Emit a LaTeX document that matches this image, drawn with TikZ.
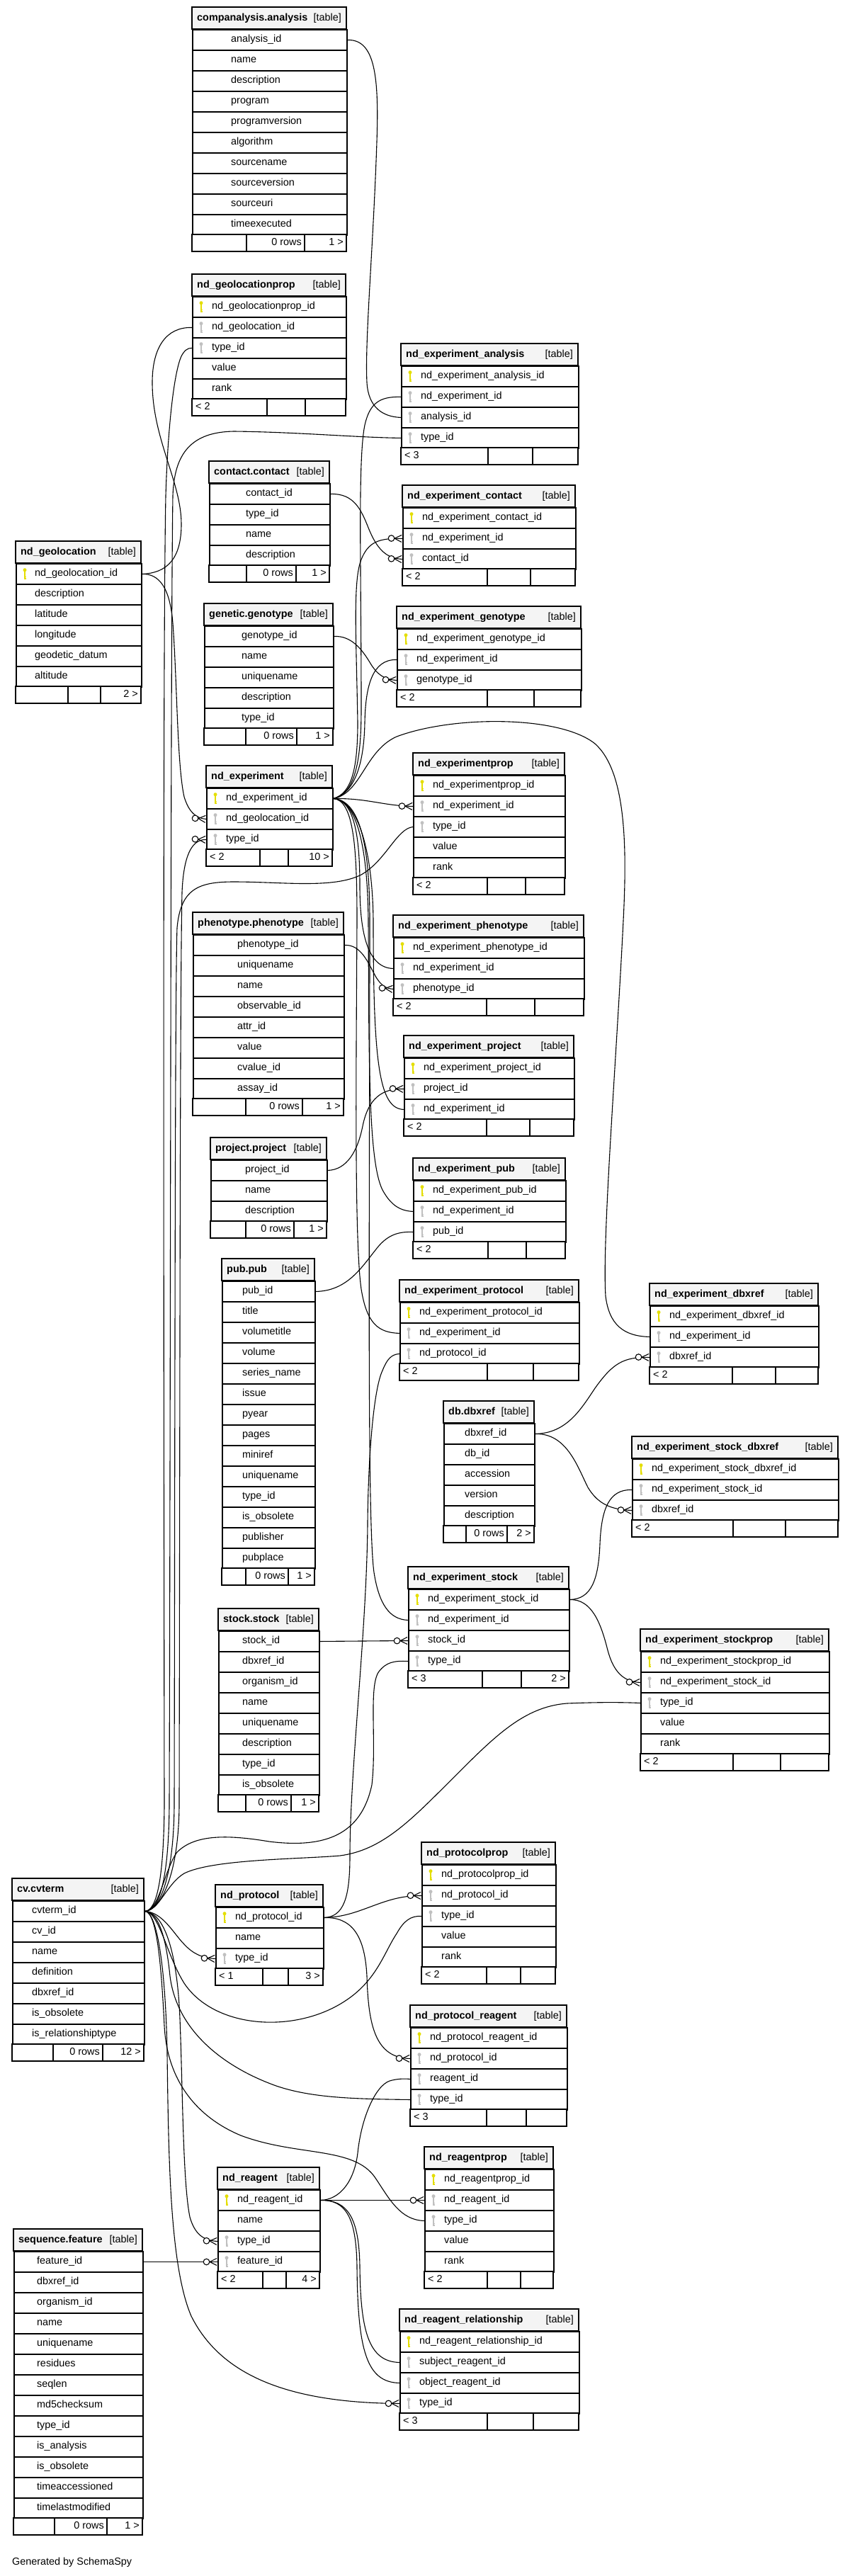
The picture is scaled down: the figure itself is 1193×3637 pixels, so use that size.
\documentclass[tikz,border=0pt]{standalone}
\usepackage{fontspec}
\setmainfont{Liberation Sans}
\usepackage{tikz}
\usetikzlibrary{decorations,decorations.markings,backgrounds,positioning}

\tikzset{
  tblline/.style={line width=1.9pt},
  tblcell/.style={draw, line width=1.9pt, fill=white, inner sep=0pt,
                  minimum height=29pt, anchor=north west},
  colname/.style={anchor=west, inner sep=0pt, text height=10.5pt, text depth=3pt},
  colright/.style={anchor=east, inner sep=0pt, text height=10.5pt, text depth=3pt},
  pics/dbkey/.style={code={
      \fill (0,-4.8) circle (2.5pt);
      \fill (-0.9,-3) rectangle (0.9,8.5);
      \fill (0.9,4.5) rectangle (2.4,5.7);
      \fill (0.9,6.8) rectangle (2.4,8);
  }},
  fk/.style={line width=1.1pt, decoration={markings,
      mark=at position 1 with {
        \draw[line width=1.1pt] (-11pt,0pt) -- (-1pt,5pt) (-11pt,0pt) -- (-1pt,-5pt);
        \draw[line width=1.1pt, fill=white] (-15.5pt,0pt) circle (4.3pt);}},
    postaction={decorate}}
}

% one table: id, x, y, width, text indent, title, key/column list
\newcommand{\dbtable}[7]{%
  \draw[tblline, fill=headfill] (#2,#3) rectangle ++(#4,31);
  \node[colname] at (#2+7,#3+15.5) {\bfseries #6};
  \node[colright] at (#2+#4-7,#3+15.5) {[table]};
  \foreach \kk/\cname [count=\i] in {#7} {
    \node[tblcell, minimum width=#4pt] (#1-\cname) at (#2,#3+2+29*\i) {};
    \node[colname] at (#2+#5,#3+16.5+29*\i) {\cname};
    \if p\kk \pic[color=keyyel] at (#2+13,#3+16.5+29*\i) {dbkey}; \fi
    \if f\kk \pic[color=keygray] at (#2+13,#3+16.5+29*\i) {dbkey}; \fi
    \xdef\nrow{\i}
  }
  \pgfmathsetmacro{\tbly}{#3+31+29*\nrow}
  \xdef\tbly{\tbly}\xdef\tblx{#2}\xdef\tblw{#4}%
}
% footer of the last table: divider x, divider x, left, middle, right
\newcommand{\dbfoot}[5]{%
  \draw[tblline, fill=white] (\tblx,\tbly) rectangle ++(\tblw,24);
  \draw[line width=1.3pt] (#1,\tbly) -- ++(0,24) (#2,\tbly) -- ++(0,24);
  \node[colname] at (\tblx+5,\tbly+12) {#3};
  \node[colright] at (#2-4,\tbly+12) {#4};
  \node[colright] at (\tblx+\tblw-4,\tbly+12) {#5};
}

\begin{document}
\catcode`\_=12
\begin{tikzpicture}[x=1pt, y=-1pt, every node/.style={font=\fontsize{14.4}{17}\selectfont}]
    \definecolor{headfill}{RGB}{244,244,244}
    \definecolor{keyyel}{RGB}{228,222,0}
    \definecolor{keygray}{RGB}{192,192,192}
    \useasboundingbox (0,0) rectangle (1193,3637);

    % Tables, top to bottom
    \dbtable{analysis}{271}{10}{218}{55}{companalysis.analysis}{n/analysis_id, n/name,
      n/description, n/program, n/programversion, n/algorithm, n/sourcename,
      n/sourceversion, n/sourceuri, n/timeexecuted}
    \dbfoot{348}{430}{}{0 rows}{1 >}

    \dbtable{geoprop}{271}{387}{217}{28}{nd_geolocationprop}{p/nd_geolocationprop_id,
      f/nd_geolocation_id, f/type_id, n/value, n/rank}
    \dbfoot{377}{431}{< 2}{}{}

    \dbtable{expana}{566}{485}{250}{28}{nd_experiment_analysis}{p/nd_experiment_analysis_id,
      f/nd_experiment_id, f/analysis_id, f/type_id}
    \dbfoot{689}{752}{< 3}{}{}

    \dbtable{contact}{295}{651}{170}{52}{contact.contact}{n/contact_id, n/type_id, n/name,
      n/description}
    \dbfoot{348}{418}{}{0 rows}{1 >}

    \dbtable{expcon}{568}{685}{244}{28}{nd_experiment_contact}{p/nd_experiment_contact_id,
      f/nd_experiment_id, f/contact_id}
    \dbfoot{688}{749}{< 2}{}{}

    \dbtable{geo}{22}{764}{177}{27}{nd_geolocation}{p/nd_geolocation_id, n/description,
      n/latitude, n/longitude, n/geodetic_datum, n/altitude}
    \dbfoot{96}{142}{}{}{2 >}

    \dbtable{genotype}{288}{852}{182}{53}{genetic.genotype}{n/genotype_id, n/name,
      n/uniquename, n/description, n/type_id}
    \dbfoot{347}{419}{}{0 rows}{1 >}

    \dbtable{expgen}{560}{856}{260}{28}{nd_experiment_genotype}{p/nd_experiment_genotype_id,
      f/nd_experiment_id, f/genotype_id}
    \dbfoot{688}{754}{< 2}{}{}

    \dbtable{exp}{291}{1081}{178}{28}{nd_experiment}{p/nd_experiment_id,
      f/nd_geolocation_id, f/type_id}
    \dbfoot{367}{407}{< 2}{}{10 >}

    \dbtable{expprop}{583}{1063}{214}{28}{nd_experimentprop}{p/nd_experimentprop_id,
      f/nd_experiment_id, f/type_id, n/value, n/rank}
    \dbfoot{688}{742}{< 2}{}{}

    \dbtable{phenotype}{272}{1288}{213}{63}{phenotype.phenotype}{n/phenotype_id,
      n/uniquename, n/name, n/observable_id, n/attr_id, n/value, n/cvalue_id, n/assay_id}
    \dbfoot{347}{427}{}{0 rows}{1 >}

    \dbtable{exppheno}{555}{1292}{269}{28}{nd_experiment_phenotype}{p/nd_experiment_phenotype_id,
      f/nd_experiment_id, f/phenotype_id}
    \dbfoot{687}{755}{< 2}{}{}

    \dbtable{expproj}{570}{1462}{240}{28}{nd_experiment_project}{p/nd_experiment_project_id,
      f/project_id, f/nd_experiment_id}
    \dbfoot{687}{748}{< 2}{}{}

    \dbtable{project}{297}{1606}{164}{49}{project.project}{n/project_id, n/name,
      n/description}
    \dbfoot{347}{415}{}{0 rows}{1 >}

    \dbtable{exppub}{583}{1635}{215}{28}{nd_experiment_pub}{p/nd_experiment_pub_id,
      f/nd_experiment_id, f/pub_id}
    \dbfoot{689}{743}{< 2}{}{}

    \dbtable{pub}{313}{1777}{131}{29}{pub.pub}{n/pub_id, n/title, n/volumetitle, n/volume,
      n/series_name, n/issue, n/pyear, n/pages, n/miniref, n/uniquename, n/type_id,
      n/is_obsolete, n/publisher, n/pubplace}
    \dbfoot{347}{407}{}{0 rows}{1 >}

    \dbtable{expprot}{564}{1807}{253}{28}{nd_experiment_protocol}{p/nd_experiment_protocol_id,
      f/nd_experiment_id, f/nd_protocol_id}
    \dbfoot{688}{753}{< 2}{}{}

    \dbtable{expdbx}{917}{1812}{238}{28}{nd_experiment_dbxref}{p/nd_experiment_dbxref_id,
      f/nd_experiment_id, f/dbxref_id}
    \dbfoot{1034}{1095}{< 2}{}{}

    \dbtable{dbxref}{626}{1978}{128}{30}{db.dbxref}{n/dbxref_id, n/db_id, n/accession,
      n/version, n/description}
    \dbfoot{658}{716}{}{0 rows}{2 >}

    \dbtable{expstockdbx}{892}{2028}{291}{28}{nd_experiment_stock_dbxref}{p/nd_experiment_stock_dbxref_id,
      f/nd_experiment_stock_id, f/dbxref_id}
    \dbfoot{1035}{1109}{< 2}{}{}

    \dbtable{expstock}{576}{2212}{227}{28}{nd_experiment_stock}{p/nd_experiment_stock_id,
      f/nd_experiment_id, f/stock_id, f/type_id}
    \dbfoot{681}{736}{< 3}{}{2 >}

    \dbtable{stock}{308}{2271}{142}{34}{stock.stock}{n/stock_id, n/dbxref_id, n/organism_id,
      n/name, n/uniquename, n/description, n/type_id, n/is_obsolete}
    \dbfoot{347}{411}{}{0 rows}{1 >}

    \dbtable{expstockprop}{904}{2300}{266}{28}{nd_experiment_stockprop}{p/nd_experiment_stockprop_id,
      f/nd_experiment_stock_id, f/type_id, n/value, n/rank}
    \dbfoot{1035}{1102}{< 2}{}{}

    \dbtable{cvterm}{17}{2652}{186}{28}{cv.cvterm}{n/cvterm_id, n/cv_id, n/name,
      n/definition, n/dbxref_id, n/is_obsolete, n/is_relationshiptype}
    \dbfoot{75}{145}{}{0 rows}{12 >}

    \dbtable{prot}{304}{2661}{152}{28}{nd_protocol}{p/nd_protocol_id, n/name, f/type_id}
    \dbfoot{371}{407}{< 1}{}{3 >}

    \dbtable{protprop}{595}{2601}{189}{28}{nd_protocolprop}{p/nd_protocolprop_id,
      f/nd_protocol_id, f/type_id, n/value, n/rank}
    \dbfoot{687}{735}{< 2}{}{}

    \dbtable{protreag}{579}{2831}{221}{28}{nd_protocol_reagent}{p/nd_protocol_reagent_id,
      f/nd_protocol_id, f/reagent_id, f/type_id}
    \dbfoot{687}{743}{< 3}{}{}

    \dbtable{reagprop}{599}{3031}{182}{28}{nd_reagentprop}{p/nd_reagentprop_id,
      f/nd_reagent_id, f/type_id, n/value, n/rank}
    \dbfoot{688}{735}{< 2}{}{}

    \dbtable{reag}{307}{3060}{144}{28}{nd_reagent}{p/nd_reagent_id, n/name, f/type_id,
      f/feature_id}
    \dbfoot{371}{404}{< 2}{}{4 >}

    \dbtable{feature}{19}{3147}{182}{33}{sequence.feature}{n/feature_id, n/dbxref_id,
      n/organism_id, n/name, n/uniquename, n/residues, n/seqlen, n/md5checksum, n/type_id,
      n/is_analysis, n/is_obsolete, n/timeaccessioned, n/timelastmodified}
    \dbfoot{77}{151}{}{0 rows}{1 >}

    \dbtable{reagrel}{564}{3260}{253}{28}{nd_reagent_relationship}{p/nd_reagent_relationship_id,
      f/subject_reagent_id, f/object_reagent_id, f/type_id}
    \dbfoot{688}{753}{< 3}{}{}

    \node[colname] (credit) at (17,3618) {Generated by SchemaSpy};

    \begin{scope}[on background layer]
    % small parents
    \draw[fk] (analysis-analysis_id.east) .. controls (530,55.5) and (535,110) .. (532,200)
          .. controls (527,350) and (515,480) .. (518,540)
          .. controls (520,575) and (540,588.5) .. (expana-analysis_id.west);
    \draw[fk] (geo-nd_geolocation_id.east) .. controls (235,809) and (256,790) .. (256,740)
          .. controls (256,680) and (215,620) .. (215,540)
          .. controls (215,490) and (235,461.5) .. (geoprop-nd_geolocation_id.west);
    \draw[fk] (geo-nd_geolocation_id.east) .. controls (225,810) and (240,830) .. (244,880)
          .. controls (250,960) and (250,1080) .. (260,1125)
          .. controls (267,1148) and (278,1155.5) .. (exp-nd_geolocation_id.west);
    \draw[fk] (contact-contact_id.east) .. controls (500,696.5) and (510,720) .. (520,745)
          .. controls (532,775) and (545,788.5) .. (expcon-contact_id.west);
    \draw[fk] (genotype-genotype_id.east) .. controls (495,897.5) and (510,915) .. (522,935)
          .. controls (532,952) and (542,959.5) .. (expgen-genotype_id.west);
    \draw[fk] (phenotype-phenotype_id.east) .. controls (510,1333.5) and (520,1360) .. (530,1378)
          .. controls (538,1392) and (545,1395.5) .. (exppheno-phenotype_id.west);
    \draw[fk] (project-project_id.east) .. controls (490,1651.5) and (505,1625) .. (512,1590)
          .. controls (520,1550) and (540,1536.5) .. (expproj-project_id.west);
    \draw[fk] (pub-pub_id.east) .. controls (490,1822.5) and (510,1790) .. (530,1765)
          .. controls (545,1745) and (560,1738.5) .. (exppub-pub_id.west);
    \draw[fk] (stock-stock_id.east) -- (expstock-stock_id.west);
    \draw[fk] (dbxref-dbxref_id.east) .. controls (800,2023.5) and (820,1990) .. (840,1960)
          .. controls (865,1925) and (880,1915.5) .. (expdbx-dbxref_id.west);
    \draw[fk] (dbxref-dbxref_id.east) .. controls (800,2023.5) and (815,2070) .. (830,2100)
          .. controls (845,2125) and (865,2131.5) .. (expstockdbx-dbxref_id.west);
    \draw[fk] (feature-feature_id.east) -- (reag-feature_id.west);

    % nd_experiment children
    \draw[fk] (exp-nd_experiment_id.east) .. controls (500,1120) and (510,1080) .. (510,1000)
          .. controls (510,800) and (505,650) .. (515,600)
          .. controls (522,570) and (535,559.5) .. (expana-nd_experiment_id.west);
    \draw[fk] (exp-nd_experiment_id.east) .. controls (495,1120) and (505,1090) .. (505,1020)
          .. controls (503,900) and (498,820) .. (510,790)
          .. controls (520,765) and (535,759.5) .. (expcon-nd_experiment_id.west);
    \draw[fk] (exp-nd_experiment_id.east) .. controls (500,1120) and (514,1080) .. (515,1020)
          .. controls (516,970) and (525,930.5) .. (expgen-nd_experiment_id.west);
    \draw[fk] (exp-nd_experiment_id.east) .. controls (520,1127) and (540,1137.5)
          .. (expprop-nd_experiment_id.west);
    \draw[fk] (exp-nd_experiment_id.east) .. controls (510,1120) and (515,1060) .. (560,1040)
          .. controls (640,1010) and (790,1010) .. (840,1050)
          .. controls (885,1090) and (885,1200) .. (880,1300)
          .. controls (870,1500) and (850,1750) .. (855,1830)
          .. controls (860,1870) and (880,1886.5) .. (expdbx-nd_experiment_id.west);
    \draw[fk] (exp-nd_experiment_id.east) .. controls (500,1130) and (508,1180) .. (508,1250)
          .. controls (508,1320) and (520,1366.5) .. (exppheno-nd_experiment_id.west);
    \draw[fk] (exp-nd_experiment_id.east) .. controls (505,1130) and (526,1200) .. (527,1300)
          .. controls (527,1500) and (535,1565.5) .. (expproj-nd_experiment_id.west);
    \draw[fk] (exp-nd_experiment_id.east) .. controls (505,1130) and (519,1200) .. (520,1300)
          .. controls (521,1500) and (520,1640) .. (540,1680)
          .. controls (552,1702) and (565,1709.5) .. (exppub-nd_experiment_id.west);
    \draw[fk] (exp-nd_experiment_id.east) .. controls (500,1130) and (504,1200) .. (504,1300)
          .. controls (503,1500) and (500,1750) .. (510,1820)
          .. controls (518,1870) and (535,1881.5) .. (expprot-nd_experiment_id.west);
    \draw[fk] (exp-nd_experiment_id.east) .. controls (510,1130) and (522,1200) .. (522,1300)
          .. controls (522,1700) and (518,2150) .. (528,2220)
          .. controls (535,2265) and (550,2286.5) .. (expstock-nd_experiment_id.west);

    % nd_experiment_stock children
    \draw[fk] (expstock-nd_experiment_stock_id.east) .. controls (835,2257.5) and (845,2230) .. (847,2180)
          .. controls (849,2130) and (860,2102.5) .. (expstockdbx-nd_experiment_stock_id.west);
    \draw[fk] (expstock-nd_experiment_stock_id.east) .. controls (835,2258) and (848,2290) .. (858,2330)
          .. controls (866,2360) and (880,2374.5) .. (expstockprop-nd_experiment_stock_id.west);

    % nd_protocol and nd_reagent children
    \draw[fk] (prot-nd_protocol_id.east) .. controls (485,2706) and (494,2680) .. (494,2620)
          .. controls (494,2500) and (518,2300) .. (519,2150)
          .. controls (520,2050) and (528,1960) .. (540,1935)
          .. controls (546,1920) and (552,1912) .. (expprot-nd_protocol_id.west);
    \draw[fk] (prot-nd_protocol_id.east) .. controls (510,2706.5) and (540,2675.5)
          .. (protprop-nd_protocol_id.west);
    \draw[fk] (prot-nd_protocol_id.east) .. controls (495,2706.5) and (515,2730) .. (518,2790)
          .. controls (520,2860) and (530,2905.5) .. (protreag-nd_protocol_id.west);
    \draw[fk] (reag-nd_reagent_id.east) .. controls (480,3105.5) and (500,3080) .. (505,3040)
          .. controls (510,2990) and (530,2945) .. (550,2938)
          .. controls (560,2935) and (570,2934.5) .. (protreag-reagent_id.west);
    \draw[fk] (reag-nd_reagent_id.east) -- (reagprop-nd_reagent_id.west);
    \draw[fk] (reag-nd_reagent_id.east) .. controls (490,3106) and (507,3130) .. (508,3200)
          .. controls (509,3290) and (520,3334.5) .. (reagrel-subject_reagent_id.west);
    \draw[fk] (reag-nd_reagent_id.east) .. controls (488,3106) and (503,3130) .. (504,3200)
          .. controls (505,3320) and (518,3363.5) .. (reagrel-object_reagent_id.west);

    % cvterm children, upwards
    \draw[fk] (cvterm-cvterm_id.east) .. controls (222,2697) and (231,2650) .. (232,2550)
          .. controls (231,1800) and (230,900) .. (234,700)
          .. controls (237,600) and (246,525) .. (256,503)
          .. controls (260,495) and (265,491) .. (geoprop-type_id.west);
    \draw[fk] (cvterm-cvterm_id.east) .. controls (226,2697) and (238,2650) .. (239,2550)
          .. controls (241,1800) and (241,900) .. (244,700)
          .. controls (246,640) and (270,610) .. (330,609)
          .. controls (420,610) and (500,617.5) .. (expana-type_id.west);
    \draw[fk] (cvterm-cvterm_id.east) .. controls (226,2697) and (252,2650) .. (253,2550)
          .. controls (254,2000) and (254,1400) .. (257,1260)
          .. controls (259,1210) and (270,1184.5) .. (exp-type_id.west);
    \draw[fk] (cvterm-cvterm_id.east) .. controls (226,2697) and (245,2650) .. (246,2550)
          .. controls (247,2000) and (247,1400) .. (250,1310)
          .. controls (255,1255) and (280,1245) .. (330,1245)
          .. controls (400,1245) and (470,1255) .. (510,1235)
          .. controls (545,1215) and (560,1170) .. (expprop-type_id.west);
    \draw[fk] (cvterm-cvterm_id.east) .. controls (225,2697) and (232,2640) .. (250,2615)
          .. controls (275,2590) and (320,2590) .. (380,2600)
          .. controls (460,2610) and (510,2590) .. (525,2520)
          .. controls (532,2460) and (520,2380) .. (535,2360)
          .. controls (545,2347) and (556,2344.5) .. (expstock-type_id.west);
    \draw[fk] (cvterm-cvterm_id.east) .. controls (225,2697) and (235,2660) .. (260,2645)
          .. controls (300,2625) and (420,2625) .. (480,2620)
          .. controls (540,2612) and (580,2570) .. (640,2510)
          .. controls (700,2450) and (740,2410) .. (800,2405)
          .. controls (850,2403) and (880,2403.5) .. (expstockprop-type_id.west);

    % cvterm children, downwards
    \draw[fk] (cvterm-cvterm_id.east) .. controls (230,2700) and (245,2730) .. (260,2745)
          .. controls (272,2758) and (285,2764.5) .. (prot-type_id.west);
    \draw[fk] (cvterm-cvterm_id.east) .. controls (225,2700) and (235,2760) .. (260,2800)
          .. controls (300,2860) and (400,2870) .. (470,2835)
          .. controls (530,2805) and (540,2760) .. (560,2730)
          .. controls (570,2712) and (580,2704.5) .. (protprop-type_id.west);
    \draw[fk] (cvterm-cvterm_id.east) .. controls (225,2700) and (235,2740) .. (240,2790)
          .. controls (250,2870) and (320,2920) .. (390,2945)
          .. controls (440,2962) and (500,2963.5) .. (protreag-type_id.west);
    \draw[fk] (cvterm-cvterm_id.east) .. controls (222,2700) and (228,2780) .. (232,2860)
          .. controls (236,2940) and (280,2990) .. (340,3015)
          .. controls (420,3045) and (500,3030) .. (530,3075)
          .. controls (550,3105) and (565,3134.5) .. (reagprop-type_id.west);
    \draw[fk] (cvterm-cvterm_id.east) .. controls (230,2700) and (250,2750) .. (254,2850)
          .. controls (258,2950) and (258,3080) .. (268,3130)
          .. controls (275,3155) and (288,3163.5) .. (reag-type_id.west);
    \draw[fk] (cvterm-cvterm_id.east) .. controls (222,2700) and (234,2780) .. (236,2900)
          .. controls (238,3050) and (240,3200) .. (270,3270)
          .. controls (310,3350) and (400,3392.5) .. (reagrel-type_id.west);
    \end{scope}
\end{tikzpicture}
\end{document}
